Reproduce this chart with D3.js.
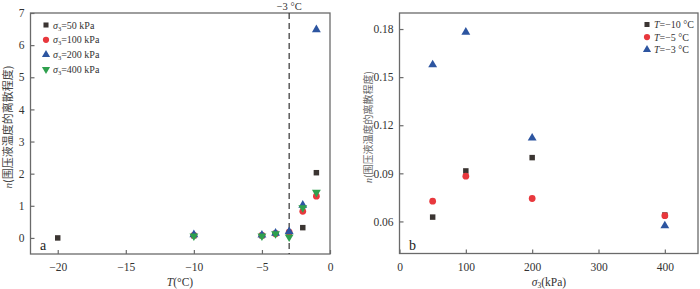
<!DOCTYPE html>
<html><head><meta charset="utf-8">
<script src="https://cdn.jsdelivr.net/npm/d3@7"></script>
<style>
body{margin:0;background:#fff;}
svg{display:block;font-family:"Liberation Serif","Times New Roman",serif;}
</style></head>
<body>
<svg id="c" width="700" height="289"></svg>
<script>
// ---- Panel a data ----
const tempsA = [-20, -10, -5, -4, -3, -2, -1];
const n50  = [0.00, 0.07, 0.07, 0.14, 0.12, 0.32, 2.03];
const n100 = [null, 0.08, 0.08, 0.13, 0.18, 0.83, 1.30];
const n200 = [null, 0.10, 0.09, 0.15, 0.20, 1.02, 6.48];
const n400 = [null, 0.06, 0.06, 0.13, 0.03, 0.94, 1.42];
const labelsA = ["50", "100", "200", "400"];
const xTicksA = [-20, -15, -10, -5, 0];
const yTicksA = [0, 1, 2, 3, 4, 5, 6, 7];

// ---- Panel b data ----
const pressB = [50, 100, 200, 400];
const nT10 = [0.0627, 0.0915, 0.0998, 0.0640];
const nT5  = [0.0726, 0.0882, 0.0743, 0.0636];
const nT3  = [0.1577, 0.1780, 0.1120, 0.0573];
const labelsB = ["10", "5", "3"];
const xTicksB = [0, 100, 200, 300, 400];
const yTicksB = [0.06, 0.09, 0.12, 0.15, 0.18];

const colors = ["#3b3532", "#e8383d", "#2d55a0", "#2fa04e"];
const shapes = [d3.symbolSquare, d3.symbolCircle, d3.symbolTriangle, d3.symbolTriangle];
const sizes = [30, 36, 34, 34];
const rot = [0, 0, 0, 180];
const frame = "#6a6a6a";
const minus = s => String(s).replace("-", "\u2212");

const svg = d3.select("#c");

function panel(x0, x1, y0, y1, xDom, yDom, xTicks, yTicks, yFmt) {
  const x = d3.scaleLinear().domain(xDom).range([x0, x1]);
  const y = d3.scaleLinear().domain(yDom).range([y1, y0]);
  const g = svg.append("g");
  g.append("rect").attr("x", x0).attr("y", y0).attr("width", x1 - x0).attr("height", y1 - y0)
    .attr("fill", "none").attr("stroke", frame).attr("stroke-width", 1.3);
  const ax = g.append("g").attr("transform", `translate(0,${y1})`)
    .call(d3.axisBottom(x).tickValues(xTicks).tickSizeInner(-4).tickSizeOuter(0).tickPadding(9).tickFormat(minus));
  const ay = g.append("g").attr("transform", `translate(${x0},0)`)
    .call(d3.axisLeft(y).tickValues(yTicks).tickSizeInner(-4).tickSizeOuter(0).tickPadding(6).tickFormat(yFmt));
  [ax, ay].forEach(a => {
    a.select(".domain").remove();
    a.selectAll("line").attr("stroke", frame).attr("stroke-width", 1.2);
    a.selectAll("text").attr("font-family", "Liberation Serif").attr("font-size", 11.5).attr("fill", "#333");
  });
  return {x, y, g};
}

function drawSeries(p, xs, ys, i) {
  const pts = xs.map((v, k) => [v, ys[k]]).filter(d => d[1] !== null);
  p.g.selectAll(null).data(pts).enter().append("path")
    .attr("d", d3.symbol().type(shapes[i]).size(sizes[i]))
    .attr("transform", d => `translate(${p.x(d[0])},${p.y(d[1])}) rotate(${rot[i]})`)
    .attr("fill", colors[i]);
}

// ---------- Panel a ----------
const A = panel(30.5, 330, 13, 254, [-22, 0], [-0.5, 7], xTicksA, yTicksA, d3.format("d"));
// dashed line at -3
A.g.append("line").attr("x1", A.x(-3)).attr("x2", A.x(-3)).attr("y1", 13).attr("y2", 254)
  .attr("stroke", "#333").attr("stroke-width", 1.2).attr("stroke-dasharray", "6,4");
A.g.append("text").attr("x", A.x(-3)).attr("y", 10).attr("text-anchor", "middle")
  .attr("font-size", 10.5).attr("fill", "#333").text("\u22123 \u00b0C");
[n50, n100, n200, n400].forEach((s, i) => drawSeries(A, tempsA, s, i));
// legend a
labelsA.forEach((lab, i) => {
  const yy = 25 + i * 14.8;
  A.g.append("path").attr("d", d3.symbol().type(shapes[i]).size(sizes[i] * 0.85)())
    .attr("transform", `translate(46,${yy}) rotate(${rot[i]})`).attr("fill", colors[i]);
  const t = A.g.append("text").attr("x", 53).attr("y", yy + 3.5).attr("font-size", 10).attr("fill", "#333");
  t.append("tspan").attr("font-style", "italic").text("\u03c3");
  t.append("tspan").attr("font-size", 6.5).attr("dy", 2).text("3");
  t.append("tspan").attr("dy", -2).text("=" + lab + " kPa");
});
A.g.append("text").attr("x", 40).attr("y", 250).attr("font-size", 14).attr("fill", "#222").text("a");
A.g.append("text").attr("x", 180).attr("y", 286).attr("text-anchor", "middle").attr("font-size", 11.5).attr("fill", "#333")
  .html('<tspan font-style="italic">T</tspan>(\u00b0C)');
svg.append("text").attr("transform", "translate(12,127) rotate(-90)").attr("text-anchor", "middle")
  .attr("font-size", 11).attr("fill", "#444")
  .html('<tspan font-style="italic" font-family="Liberation Serif">n</tspan><tspan font-family="Noto Sans CJK SC">(围压液温度的离散程度)</tspan>');

// ---------- Panel b ----------
const B = panel(399.5, 698, 13, 253.5, [0, 450], [0.04, 0.19], xTicksB, yTicksB, d3.format(".2f"));
[nT10, nT5, nT3].forEach((s, i) => drawSeries(B, pressB, s, i));
labelsB.forEach((lab, i) => {
  const yy = 24.5 + i * 12.6;
  B.g.append("path").attr("d", d3.symbol().type(shapes[i]).size(sizes[i] * 0.85)())
    .attr("transform", `translate(647,${yy})`).attr("fill", colors[i]);
  B.g.append("text").attr("x", 654).attr("y", yy + 3.5).attr("font-size", 10).attr("fill", "#333")
    .html('<tspan font-style="italic">T</tspan>=\u2212' + lab + ' \u00b0C');
});
B.g.append("text").attr("x", 409).attr("y", 250).attr("font-size", 14).attr("fill", "#222").text("b");
B.g.append("text").attr("x", 549).attr("y", 286).attr("text-anchor", "middle").attr("font-size", 11.5).attr("fill", "#333")
  .html('<tspan font-style="italic">\u03c3</tspan><tspan font-size="7.5" dy="2">3</tspan><tspan dy="-2">(kPa)</tspan>');
svg.append("text").attr("transform", "translate(372,127) rotate(-90)").attr("text-anchor", "middle")
  .attr("font-size", 10).attr("fill", "#666")
  .html('<tspan font-style="italic" font-family="Liberation Serif">n</tspan><tspan font-family="Noto Sans CJK SC">(围压液温度的离散程度)</tspan>');
</script>
</body></html>
